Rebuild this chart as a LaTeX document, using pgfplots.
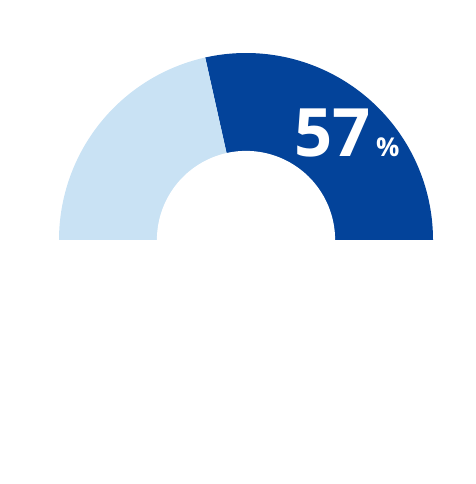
\documentclass[border=0pt]{standalone}
\usepackage{fontspec}
\usepackage{pgfplots}
\pgfplotsset{compat=1.18}
\newfontfamily\numfont{Open Sans}
\definecolor{darkblue}{HTML}{03439A}
\definecolor{lightblue}{HTML}{C9E2F4}

% share shown on the gauge (percent)
\def\share{57}

\begin{document}
\begin{tikzpicture}
\pgfmathsetmacro{\ang}{180*\share/100}
\begin{axis}[
    scale only axis,
    width=476bp, height=484bp,
    xmin=0, xmax=476,
    ymin=0, ymax=484,
    hide axis,
    clip=false,
]
    \path (rel axis cs:0,0) rectangle (rel axis cs:1,1);
    % share part (dark)
    \addplot[fill=darkblue, draw=none, domain=0:\ang, samples=120, variable=\t]
        ({246+187*cos(t)}, {244+187*sin(t)}) -- (axis cs:246,244) -- cycle;
    % rest (light)
    \addplot[fill=lightblue, draw=none, domain=\ang:180, samples=120, variable=\t]
        ({246+187*cos(t)}, {244+187*sin(t)}) -- (axis cs:246,244) -- cycle;
    % hole
    \addplot[fill=white, draw=white, line width=1.2pt, domain=0:180, samples=120, variable=\t]
        ({246+88.5*cos(t)}, {244+88.5*sin(t)}) -- cycle;
    \node[anchor=base west, inner sep=0pt, text=white, font=\numfont\bfseries\fontsize{67}{67}\selectfont]
        at (axis cs:294,327) {57};
    \node[anchor=base west, inner sep=0pt, text=white, font=\numfont\bfseries\fontsize{26}{26}\selectfont]
        at (axis cs:376,327) {\%};
\end{axis}
\end{tikzpicture}
\end{document}
